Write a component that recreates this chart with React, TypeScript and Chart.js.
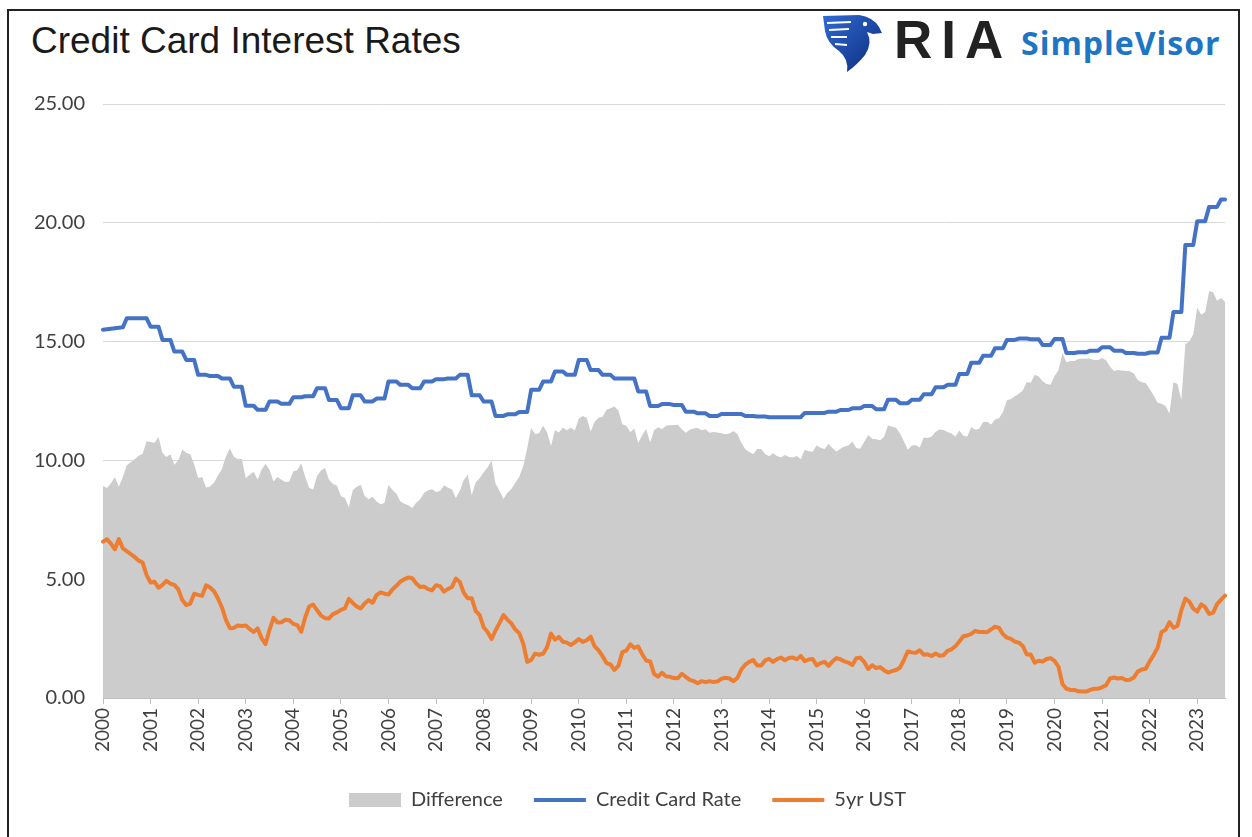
import React, { useEffect, useRef } from "react";
import { Chart, registerables } from "chart.js";

Chart.register(...registerables);

// ---- Data (monthly, Jan 2000 – Aug 2023) ----
const yearLabels: string[] = [
  "2000", "2001", "2002", "2003", "2004", "2005", "2006", "2007", "2008", "2009", "2010", "2011",
  "2012", "2013", "2014", "2015", "2016", "2017", "2018", "2019", "2020", "2021", "2022", "2023",
];

const yTicks: number[] = [0, 5, 10, 15, 20, 25];

const creditCardRate: number[] = [
  15.50, 15.52, 15.54, 15.56, 15.58, 15.60, 15.98, 15.98, 15.98, 15.98, 15.98, 15.98, // 2000
  15.63, 15.63, 15.63, 15.07, 15.07, 15.07, 14.58, 14.58, 14.58, 14.23, 14.23, 14.23, // 2001
  13.60, 13.60, 13.60, 13.55, 13.55, 13.55, 13.45, 13.45, 13.45, 13.10, 13.10, 13.10, // 2002
  12.30, 12.30, 12.30, 12.13, 12.13, 12.13, 12.48, 12.48, 12.48, 12.38, 12.38, 12.38, // 2003
  12.66, 12.66, 12.66, 12.70, 12.70, 12.70, 13.04, 13.04, 13.04, 12.54, 12.54, 12.54, // 2004
  12.20, 12.20, 12.20, 12.74, 12.74, 12.74, 12.48, 12.48, 12.48, 12.60, 12.60, 12.60, // 2005
  13.32, 13.32, 13.32, 13.18, 13.18, 13.18, 13.04, 13.04, 13.04, 13.32, 13.32, 13.32, // 2006
  13.42, 13.42, 13.42, 13.45, 13.45, 13.45, 13.60, 13.60, 13.60, 12.74, 12.74, 12.74, // 2007
  12.48, 12.48, 12.48, 11.87, 11.87, 11.87, 11.94, 11.94, 11.94, 12.04, 12.04, 12.04, // 2008
  12.97, 12.97, 12.97, 13.32, 13.32, 13.32, 13.74, 13.74, 13.74, 13.60, 13.60, 13.60, // 2009
  14.23, 14.23, 14.23, 13.80, 13.80, 13.80, 13.60, 13.60, 13.60, 13.45, 13.45, 13.45, // 2010
  13.45, 13.45, 13.45, 12.90, 12.90, 12.90, 12.29, 12.29, 12.29, 12.37, 12.37, 12.37, // 2011
  12.33, 12.33, 12.33, 12.05, 12.05, 12.05, 11.98, 11.98, 11.98, 11.87, 11.87, 11.87, // 2012
  11.95, 11.95, 11.95, 11.95, 11.95, 11.95, 11.87, 11.87, 11.87, 11.85, 11.85, 11.85, // 2013
  11.82, 11.82, 11.82, 11.82, 11.82, 11.82, 11.82, 11.82, 11.82, 12.00, 12.00, 12.00, // 2014
  12.00, 12.00, 12.00, 12.05, 12.05, 12.05, 12.12, 12.12, 12.12, 12.19, 12.19, 12.19, // 2015
  12.29, 12.29, 12.29, 12.15, 12.15, 12.15, 12.55, 12.55, 12.55, 12.41, 12.41, 12.41, // 2016
  12.55, 12.55, 12.55, 12.78, 12.78, 12.78, 13.08, 13.08, 13.08, 13.18, 13.18, 13.18, // 2017
  13.64, 13.64, 13.64, 14.11, 14.11, 14.11, 14.40, 14.40, 14.40, 14.72, 14.72, 14.72, // 2018
  15.07, 15.07, 15.07, 15.13, 15.13, 15.13, 15.10, 15.10, 15.10, 14.86, 14.86, 14.86, // 2019
  15.11, 15.11, 15.11, 14.52, 14.52, 14.52, 14.55, 14.55, 14.55, 14.62, 14.62, 14.62, // 2020
  14.76, 14.76, 14.76, 14.62, 14.62, 14.62, 14.52, 14.52, 14.52, 14.49, 14.49, 14.49, // 2021
  14.54, 14.54, 14.54, 15.16, 15.16, 15.16, 16.25, 16.25, 16.25, 19.07, 19.07, 19.07, // 2022
  20.07, 20.07, 20.07, 20.67, 20.67, 20.67, 20.98, 20.98, // 2023
];

const ust5yr: number[] = [
  6.58, 6.68, 6.50, 6.26, 6.69, 6.30, 6.18, 6.06, 5.93, 5.78, 5.70, 5.17, // 2000
  4.86, 4.89, 4.64, 4.76, 4.93, 4.81, 4.76, 4.57, 4.12, 3.91, 3.97, 4.39, // 2001
  4.34, 4.30, 4.74, 4.65, 4.49, 4.19, 3.81, 3.29, 2.94, 2.95, 3.05, 3.03, // 2002
  3.05, 2.90, 2.78, 2.93, 2.52, 2.27, 2.87, 3.37, 3.18, 3.19, 3.29, 3.27, // 2003
  3.12, 3.07, 2.79, 3.39, 3.85, 3.93, 3.69, 3.47, 3.36, 3.35, 3.53, 3.60, // 2004
  3.71, 3.77, 4.17, 4.00, 3.85, 3.77, 3.98, 4.12, 4.01, 4.33, 4.45, 4.39, // 2005
  4.35, 4.57, 4.72, 4.90, 5.00, 5.07, 5.04, 4.82, 4.67, 4.69, 4.58, 4.53, // 2006
  4.75, 4.71, 4.48, 4.59, 4.67, 5.03, 4.88, 4.43, 4.20, 4.20, 3.67, 3.49, // 2007
  2.98, 2.78, 2.48, 2.84, 3.15, 3.49, 3.30, 3.14, 2.88, 2.73, 2.29, 1.52, // 2008
  1.60, 1.87, 1.82, 1.86, 2.13, 2.71, 2.46, 2.57, 2.37, 2.33, 2.23, 2.34, // 2009
  2.48, 2.36, 2.43, 2.58, 2.18, 2.00, 1.76, 1.47, 1.41, 1.18, 1.35, 1.93, // 2010
  1.99, 2.26, 2.11, 2.17, 1.84, 1.58, 1.54, 1.02, 0.90, 1.06, 0.91, 0.89, // 2011
  0.84, 0.83, 1.02, 0.89, 0.76, 0.71, 0.62, 0.71, 0.67, 0.71, 0.67, 0.70, // 2012
  0.81, 0.85, 0.82, 0.71, 0.84, 1.20, 1.40, 1.52, 1.60, 1.37, 1.37, 1.58, // 2013
  1.65, 1.52, 1.64, 1.70, 1.59, 1.68, 1.70, 1.63, 1.77, 1.55, 1.62, 1.64, // 2014
  1.37, 1.47, 1.52, 1.35, 1.54, 1.68, 1.63, 1.54, 1.49, 1.39, 1.67, 1.70, // 2015
  1.52, 1.22, 1.38, 1.26, 1.30, 1.17, 1.07, 1.13, 1.18, 1.27, 1.60, 1.96, // 2016
  1.92, 1.90, 2.01, 1.82, 1.84, 1.77, 1.87, 1.78, 1.80, 1.98, 2.05, 2.18, // 2017
  2.38, 2.60, 2.63, 2.70, 2.82, 2.78, 2.78, 2.77, 2.89, 3.00, 2.95, 2.68, // 2018
  2.54, 2.49, 2.37, 2.33, 2.19, 1.83, 1.83, 1.49, 1.57, 1.53, 1.64, 1.68, // 2019
  1.56, 1.32, 0.59, 0.39, 0.34, 0.34, 0.28, 0.27, 0.27, 0.34, 0.39, 0.39, // 2020
  0.45, 0.54, 0.82, 0.86, 0.82, 0.84, 0.76, 0.77, 0.86, 1.11, 1.20, 1.23, // 2021
  1.54, 1.81, 2.11, 2.78, 2.87, 3.19, 2.96, 3.03, 3.70, 4.18, 4.06, 3.76, // 2022
  3.64, 3.94, 3.82, 3.54, 3.59, 3.95, 4.14, 4.31, // 2023
];

const difference: number[] = [
  8.92, 8.84, 9.04, 9.30, 8.89, 9.30, 9.80, 9.92, 10.05, 10.20, 10.28, 10.81, // 2000
  10.77, 10.74, 10.99, 10.31, 10.14, 10.26, 9.82, 10.01, 10.46, 10.32, 10.26, 9.84, // 2001
  9.26, 9.30, 8.86, 8.90, 9.06, 9.36, 9.64, 10.16, 10.51, 10.15, 10.05, 10.07, // 2002
  9.25, 9.40, 9.52, 9.20, 9.61, 9.86, 9.61, 9.11, 9.30, 9.19, 9.09, 9.11, // 2003
  9.54, 9.59, 9.87, 9.31, 8.85, 8.77, 9.35, 9.57, 9.68, 9.19, 9.01, 8.94, // 2004
  8.49, 8.43, 8.03, 8.74, 8.89, 8.97, 8.50, 8.36, 8.47, 8.27, 8.15, 8.21, // 2005
  8.97, 8.75, 8.60, 8.28, 8.18, 8.11, 8.00, 8.22, 8.37, 8.63, 8.74, 8.79, // 2006
  8.67, 8.71, 8.94, 8.86, 8.78, 8.42, 8.72, 9.17, 9.40, 8.54, 9.07, 9.25, // 2007
  9.50, 9.70, 10.00, 9.03, 8.72, 8.38, 8.64, 8.80, 9.06, 9.31, 9.75, 10.52, // 2008
  11.37, 11.10, 11.15, 11.46, 11.19, 10.61, 11.28, 11.17, 11.37, 11.27, 11.37, 11.26, // 2009
  11.75, 11.87, 11.80, 11.22, 11.62, 11.80, 11.84, 12.13, 12.19, 12.27, 12.10, 11.52, // 2010
  11.46, 11.19, 11.34, 10.73, 11.06, 11.32, 10.75, 11.27, 11.39, 11.31, 11.46, 11.48, // 2011
  11.49, 11.50, 11.31, 11.16, 11.29, 11.34, 11.36, 11.27, 11.31, 11.16, 11.20, 11.17, // 2012
  11.14, 11.10, 11.13, 11.24, 11.11, 10.75, 10.47, 10.35, 10.27, 10.48, 10.48, 10.27, // 2013
  10.17, 10.30, 10.18, 10.12, 10.23, 10.14, 10.12, 10.19, 10.05, 10.45, 10.38, 10.36, // 2014
  10.63, 10.53, 10.48, 10.70, 10.51, 10.37, 10.49, 10.58, 10.63, 10.80, 10.52, 10.49, // 2015
  10.77, 11.07, 10.91, 10.89, 10.85, 10.98, 11.48, 11.42, 11.37, 11.14, 10.81, 10.45, // 2016
  10.63, 10.65, 10.54, 10.96, 10.94, 11.01, 11.21, 11.30, 11.28, 11.20, 11.13, 11.00, // 2017
  11.26, 11.04, 11.01, 11.41, 11.29, 11.33, 11.62, 11.63, 11.51, 11.72, 11.77, 12.04, // 2018
  12.53, 12.58, 12.70, 12.80, 12.94, 13.30, 13.27, 13.61, 13.53, 13.33, 13.22, 13.18, // 2019
  13.55, 13.79, 14.52, 14.13, 14.18, 14.18, 14.27, 14.28, 14.28, 14.28, 14.23, 14.23, // 2020
  14.31, 14.22, 13.94, 13.76, 13.80, 13.78, 13.76, 13.75, 13.66, 13.38, 13.29, 13.26, // 2021
  13.00, 12.73, 12.43, 12.38, 12.29, 11.97, 13.29, 13.22, 12.55, 14.89, 15.01, 15.31, // 2022
  16.43, 16.13, 16.25, 17.13, 17.08, 16.72, 16.84, 16.67, // 2023
];

// Month categories, one per data point ("YYYY-MM")
const months: string[] = creditCardRate.map((_, i) => {
  const y = yearLabels[Math.floor(i / 12)];
  const m = String((i % 12) + 1).padStart(2, "0");
  return `${y}-${m}`;
});

const BLUE = "#4472C4";
const ORANGE = "#ED7D31";
const GRAY = "#CDCCCC";
const TEXT = "#404040";
const X_FONT = { family: "Lato, 'Open Sans', sans-serif", size: 19 };
const Y_FONT = { family: "Lato, 'Open Sans', sans-serif", size: 20 };
const LEGEND_FONT = { family: "Lato, 'Open Sans', sans-serif", size: 20 };

function Eagle() {
  return (
    <svg width="62" height="60" viewBox="0 0 62 60">
      <defs>
        <linearGradient id="eg" x1="0" y1="0" x2="1" y2="1">
          <stop offset="0" stopColor="#2f6bd3" />
          <stop offset="1" stopColor="#0c2a7a" />
        </linearGradient>
      </defs>
      <path
        d="M2 3 L38 2 Q52 4 58 14 L61 20 L52 21 L46 19 Q52 30 44 42 Q36 52 26 59 Q28 46 18 38 Q6 30 4 18 Z"
        fill="url(#eg)"
      />
      <path d="M6 10 L30 9 M8 17 L28 16 M10 24 L26 24 M14 31 L26 32" stroke="#ffffff" strokeWidth="2" fill="none" />
      <circle cx="44" cy="11" r="2.2" fill="#ffffff" />
    </svg>
  );
}

export default function App() {
  const canvasRef = useRef<HTMLCanvasElement | null>(null);

  useEffect(() => {
    const canvas = canvasRef.current;
    if (!canvas) return;

    const chart = new Chart(canvas, {
      type: "line",
      data: {
        labels: months,
        datasets: [
          {
            label: "Difference",
            data: difference,
            fill: "origin",
            backgroundColor: GRAY,
            borderColor: GRAY,
            borderWidth: 0,
            pointRadius: 0,
            order: 3,
          },
          {
            label: "Credit Card Rate",
            data: creditCardRate,
            fill: false,
            borderColor: BLUE,
            backgroundColor: BLUE,
            borderWidth: 4,
            pointRadius: 0,
            borderJoinStyle: "round",
            borderCapStyle: "round",
            order: 1,
          },
          {
            label: "5yr UST",
            data: ust5yr,
            fill: false,
            borderColor: ORANGE,
            backgroundColor: ORANGE,
            borderWidth: 4,
            pointRadius: 0,
            borderJoinStyle: "round",
            borderCapStyle: "round",
            order: 2,
          },
        ],
      },
      options: {
        animation: false,
        responsive: false,
        maintainAspectRatio: false,
        layout: { padding: { left: 30, right: 27, top: 104, bottom: 17 } },
        plugins: {
          tooltip: { enabled: false },
          legend: {
            position: "bottom",
            labels: {
              usePointStyle: true,
              pointStyleWidth: 52,
              boxHeight: 14,
              padding: 31,
              color: TEXT,
              font: LEGEND_FONT,
              sort: (a: any, b: any) => a.datasetIndex - b.datasetIndex,
              generateLabels: (c: any) => {
                const items = (Chart as any).defaults.plugins.legend.labels.generateLabels(c);
                items.forEach((it: any) => {
                  if (it.datasetIndex === 0) {
                    it.pointStyle = "rect";
                    it.lineWidth = 0;
                    it.fillStyle = GRAY;
                    it.strokeStyle = GRAY;
                  } else {
                    it.pointStyle = "line";
                    it.lineWidth = 4;
                  }
                });
                return items;
              },
            },
          },
        },
        scales: {
          x: {
            type: "category",
            offset: false,
            grid: {
              display: true,
              drawOnChartArea: false,
              drawTicks: true,
              tickLength: 6,
              color: "#BFBFBF",
              offset: false,
            },
            border: { display: true, color: "#BFBFBF" },
            ticks: {
              autoSkip: false,
              minRotation: 90,
              maxRotation: 90,
              padding: 4,
              color: TEXT,
              font: X_FONT,
              callback: (value: any) => yearLabels[Math.floor(Number(value) / 12)],
            },
            afterBuildTicks: (scale: any) => {
              scale.ticks = scale.ticks.filter((t: any) => t.value % 12 === 0);
            },
            afterFit: (scale: any) => {
              scale.height = 61;
            },
          },
          y: {
            min: yTicks[0],
            max: yTicks[yTicks.length - 1],
            ticks: {
              stepSize: 5,
              padding: 18,
              color: TEXT,
              font: Y_FONT,
              callback: (v: any) => Number(v).toFixed(2),
            },
            grid: { color: "#D9D9D9", drawTicks: false, lineWidth: 1 },
            border: { display: false },
            afterFit: (scale: any) => {
              scale.width = 73;
            },
          },
        },
      } as any,
    });

    return () => chart.destroy();
  }, []);

  return (
    <div
      style={{
        position: "absolute",
        left: 0,
        top: 0,
        width: 1252,
        height: 837,
        overflow: "hidden",
        background: "#ffffff",
      }}
    >
      <div
        style={{
          position: "absolute",
          left: 7,
          top: 9,
          width: 1233,
          height: 900,
          border: "2px solid #222",
          boxSizing: "border-box",
        }}
      />
      <div
        style={{
          position: "absolute",
          left: 31,
          top: 22,
          fontFamily: "'Liberation Sans', Arial, sans-serif",
          fontSize: 37,
          lineHeight: "37px",
          color: "#1a1a1a",
          whiteSpace: "nowrap",
        }}
      >
        Credit Card Interest Rates
      </div>
      <div style={{ position: "absolute", left: 821, top: 13 }}>
        <Eagle />
      </div>
      <div
        style={{
          position: "absolute",
          left: 894,
          top: 13,
          fontFamily: "'Liberation Sans', Arial, sans-serif",
          fontWeight: 700,
          fontSize: 53,
          lineHeight: "53px",
          letterSpacing: 9,
          color: "#222222",
          whiteSpace: "nowrap",
        }}
      >
        RIA
      </div>
      <div
        style={{
          position: "absolute",
          left: 1021,
          top: 27,
          fontFamily: "'Open Sans', sans-serif",
          fontWeight: 700,
          fontSize: 32,
          lineHeight: "32px",
          letterSpacing: 1,
          color: "#1d75c4",
          whiteSpace: "nowrap",
        }}
      >
        SimpleVisor
      </div>
      <canvas
        ref={canvasRef}
        width={1252}
        height={837}
        style={{ position: "absolute", left: 0, top: 0, width: 1252, height: 837 }}
      />
    </div>
  );
}
